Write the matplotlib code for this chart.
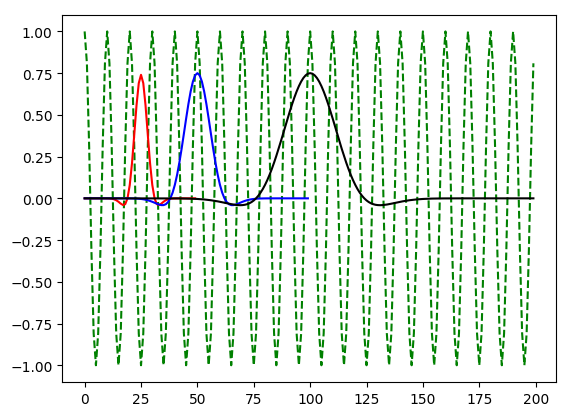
import numpy as np
from matplotlib import pyplot as plt

# carrier signal
carrier_period = 10
carrier_len = 200

# wavelets: length, width, peak, colour
lengths = [50, 100, 200]
widths = [6, 12, 24]
peaks = [0.74, 0.75, 0.75]
colors = ['red', 'blue', 'black']

def wavelet(n, a, amp):
    x = np.arange(n) - n / 2
    u2 = (x / a) ** 2
    return amp * (1 - u2) * np.exp(-1.5 * u2)

fig, ax = plt.subplots(figsize=(5.76, 4.14), dpi=100)
fig.subplots_adjust(left=0.108, right=0.965, top=0.962, bottom=0.075)
t = np.arange(carrier_len)
ax.plot(t, np.cos(2 * np.pi * t / carrier_period), 'g--')
for n, a, amp, c in zip(lengths, widths, peaks, colors):
    ax.plot(np.arange(n), wavelet(n, a, amp), color=c)
fig.savefig('out.png')
